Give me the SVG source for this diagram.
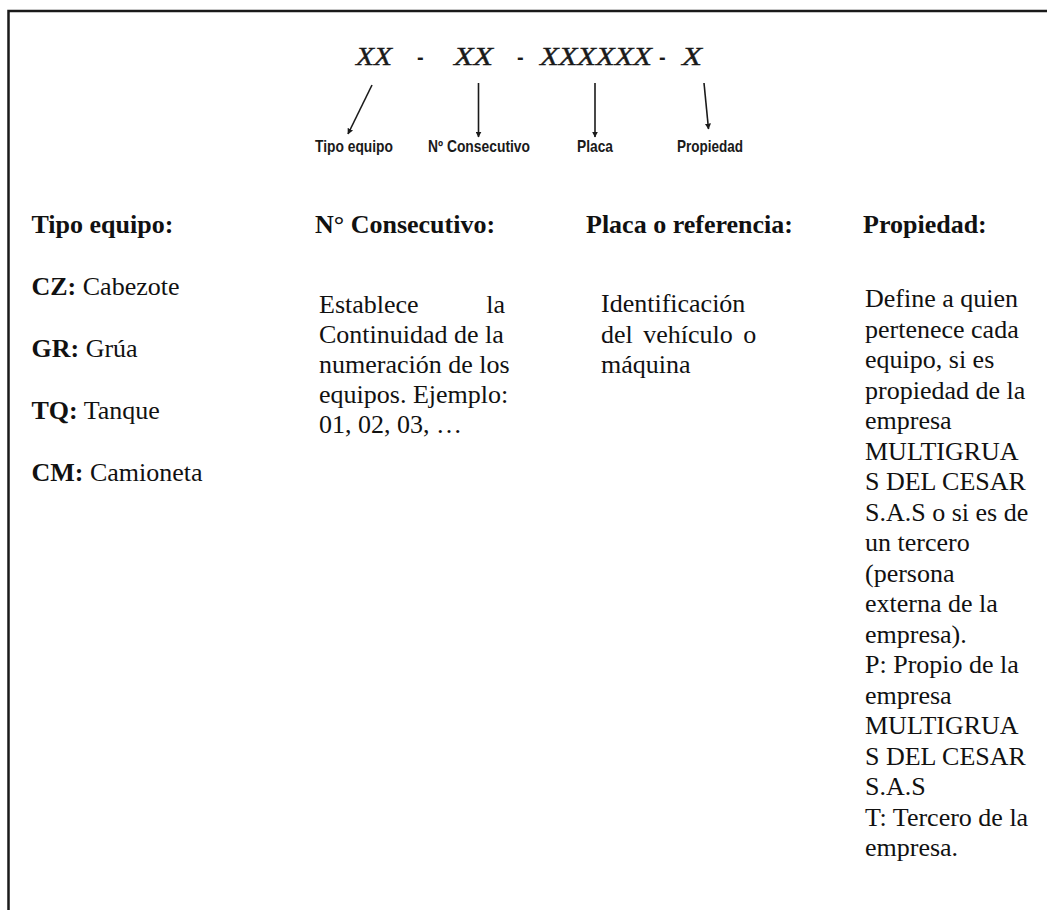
<svg xmlns="http://www.w3.org/2000/svg" width="1047" height="910" viewBox="0 0 1047 910">
<style>
.bd{font-family:"Liberation Serif","Times New Roman",serif;font-size:26px;font-weight:bold;fill:#111}
.tx{font-family:"Liberation Serif","Times New Roman",serif;font-size:26px;fill:#111}
.code{font-family:"Liberation Serif","Times New Roman",serif;font-size:25px;font-style:italic;fill:#1a1a1a;stroke:#1a1a1a;stroke-width:0.4}
.dash{font-family:"Liberation Sans",Arial,sans-serif;font-size:20px;font-weight:bold;fill:#1a1a1a}
.lbl{font-family:"Liberation Sans",Arial,sans-serif;font-size:16.5px;font-weight:bold;fill:#1a1a1a}
.arr{stroke:#1a1a1a;stroke-width:1.6;fill:none;marker-end:url(#ah)}
</style>
<defs>
<marker id="ah" viewBox="0 0 10 10" refX="9" refY="5" markerWidth="6" markerHeight="6" orient="auto" markerUnits="userSpaceOnUse">
<path d="M0,0 L10,5 L0,10 z" fill="#1a1a1a"/>
</marker>
</defs>
<rect width="1047" height="910" fill="#fff"/>
<path d="M8.5,910 V11 H1047" fill="none" stroke="#1a1a1a" stroke-width="2.5"/>

<g id="code">
<text class="code" x="356" y="65" textLength="36" lengthAdjust="spacingAndGlyphs">XX</text>
<text class="dash" x="417" y="64">-</text>
<text class="code" x="454" y="65" textLength="39" lengthAdjust="spacingAndGlyphs">XX</text>
<text class="dash" x="517" y="64">-</text>
<text class="code" x="540" y="65" textLength="112" lengthAdjust="spacingAndGlyphs">XXXXXX</text>
<text class="dash" x="659" y="64">-</text>
<text class="code" x="682" y="65" textLength="20" lengthAdjust="spacingAndGlyphs">X</text>
</g>

<g id="connectors">
<line class="arr" x1="372" y1="85" x2="348" y2="134"/>
<line class="arr" x1="478.5" y1="83" x2="478.5" y2="137"/>
<line class="arr" x1="595" y1="83" x2="595" y2="137"/>
<line class="arr" x1="704" y1="83" x2="708.5" y2="129"/>
</g>

<g id="label-tipo"><text class="lbl" x="315" y="152" textLength="78" lengthAdjust="spacingAndGlyphs">Tipo equipo</text></g>
<g id="label-consecutivo"><text class="lbl" x="428" y="152" textLength="102" lengthAdjust="spacingAndGlyphs">Nº Consecutivo</text></g>
<g id="label-placa"><text class="lbl" x="577" y="152" textLength="36" lengthAdjust="spacingAndGlyphs">Placa</text></g>
<g id="label-propiedad"><text class="lbl" x="677" y="152" textLength="66" lengthAdjust="spacingAndGlyphs">Propiedad</text></g>

<g id="col-tipo">
<text class="bd" x="31.5" y="233">Tipo equipo:</text>
<text x="31.5" y="295"><tspan class="bd">CZ:</tspan><tspan class="tx"> Cabezote</tspan></text>
<text x="31.5" y="357"><tspan class="bd">GR:</tspan><tspan class="tx"> Grúa</tspan></text>
<text x="31.5" y="419"><tspan class="bd">TQ:</tspan><tspan class="tx"> Tanque</tspan></text>
<text x="31.5" y="481"><tspan class="bd">CM:</tspan><tspan class="tx"> Camioneta</tspan></text>
</g>

<g id="col-consecutivo">
<text class="bd" x="315" y="233">N° Consecutivo:</text>
<text class="tx" x="319" y="313">Establece</text>
<text class="tx" x="505" y="313" text-anchor="end">la</text>
<text class="tx" x="319" y="343">Continuidad de la</text>
<text class="tx" x="319" y="373">numeración de los</text>
<text class="tx" x="319" y="403">equipos. Ejemplo:</text>
<text class="tx" x="319" y="433">01, 02, 03, …</text>
</g>

<g id="col-placa">
<text class="bd" x="586" y="233">Placa o referencia:</text>
<text class="tx" x="601" y="312">Identificación</text>
<text class="tx" x="601" y="343" word-spacing="4">del vehículo o</text>
<text class="tx" x="601" y="373">máquina</text>
</g>

<g id="col-propiedad">
<text class="bd" x="863" y="233">Propiedad:</text>
<text class="tx" x="865" y="307">Define a quien</text>
<text class="tx" x="865" y="337.5">pertenece cada</text>
<text class="tx" x="865" y="368">equipo, si es</text>
<text class="tx" x="865" y="398.5">propiedad de la</text>
<text class="tx" x="865" y="429">empresa</text>
<text class="tx" x="865" y="459.5">MULTIGRUA</text>
<text class="tx" x="865" y="490">S DEL CESAR</text>
<text class="tx" x="865" y="520.5">S.A.S o si es de</text>
<text class="tx" x="865" y="551">un tercero</text>
<text class="tx" x="865" y="581.5">(persona</text>
<text class="tx" x="865" y="612">externa de la</text>
<text class="tx" x="865" y="642.5">empresa).</text>
<text class="tx" x="865" y="673">P: Propio de la</text>
<text class="tx" x="865" y="703.5">empresa</text>
<text class="tx" x="865" y="734">MULTIGRUA</text>
<text class="tx" x="865" y="764.5">S DEL CESAR</text>
<text class="tx" x="865" y="795">S.A.S</text>
<text class="tx" x="865" y="825.5">T: Tercero de la</text>
<text class="tx" x="865" y="856">empresa.</text>
</g>
</svg>
